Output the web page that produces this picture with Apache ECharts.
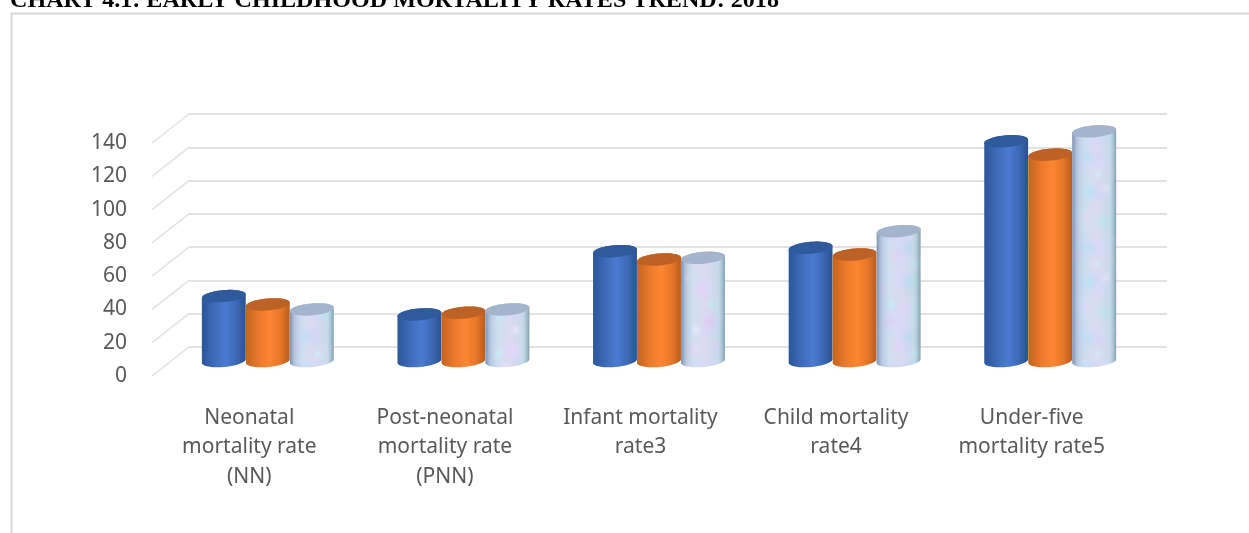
<!DOCTYPE html>
<html><head><meta charset="utf-8">
<style>html,body{margin:0;padding:0;background:#fff;overflow:hidden}#c{width:1249px;height:533px;filter:blur(0.45px)}</style>
<script src="https://cdn.jsdelivr.net/npm/echarts@6/dist/echarts.min.js"></script>
</head><body><div id="c"></div>
<script>
const titleText = 'CHART 4.1: EARLY CHILDHOOD MORTALITY RATES TREND: 2018';
const categories = ['Neonatal\nmortality rate\n(NN)', 'Post-neonatal\nmortality rate\n(PNN)', 'Infant mortality\nrate3', 'Child mortality\nrate4', 'Under-five\nmortality rate5'];
const seriesBlue = [39, 28, 66, 68, 132];
const seriesOrange = [34, 29, 61, 64, 124];
const seriesMarble = [31, 31, 62, 78, 138];
const ticks = [0, 20, 40, 60, 80, 100, 120, 140];

const chart = echarts.init(document.getElementById('c'), null, {renderer: 'canvas'});
const GRID = '#e2e2e2', TEXT = '#595959', FONT = '"Noto Sans", sans-serif';
const DEPTH_X = 37, DEPTH_Y = 29, TILT = -5 * Math.PI / 180;

function marble() {
  const cv = document.createElement('canvas'); cv.width = 60; cv.height = 90;
  const g = cv.getContext('2d'); g.fillStyle = '#d6dcf2'; g.fillRect(0, 0, 60, 90);
  const blobs = [[10,12,16,'#b6e2f0'],[40,20,14,'#e8cff4'],[22,42,16,'#bfe8f2'],[50,52,14,'#e2caf2'],[8,68,15,'#c0dcf2'],[34,80,16,'#ecd8fa'],
    [26,8,9,'#f0e6fc'],[52,34,9,'#c8ecf4'],[6,38,9,'#e6d4f6'],[36,60,9,'#f2ecfc'],[18,84,8,'#d0f0f6'],[56,76,9,'#e0d0f4']];
  blobs.forEach(b => {
    [-60, 0, 60].forEach(ox => [-90, 0, 90].forEach(oy => {
      const r = g.createRadialGradient(b[0] + ox, b[1] + oy, 1, b[0] + ox, b[1] + oy, b[2]);
      r.addColorStop(0, b[3]); r.addColorStop(1, 'rgba(214,220,242,0)');
      g.fillStyle = r; g.fillRect(0, 0, 60, 90);
    }));
  });
  return cv;
}
const marbleImg = marble();

function hGrad(stops) {
  return {type: 'linear', x: 0, y: 0, x2: 1, y2: 0, colorStops: stops.map(s => ({offset: s[0], color: s[1]}))};
}
const looks = [
  {body: hGrad([[0,'#2c5699'],[0.3,'#3f6cba'],[0.55,'#4a7bd2'],[0.8,'#3b67b4'],[1,'#2a5290']]), top: '#2f5a9c'},
  {body: hGrad([[0,'#c2641f'],[0.3,'#ec7a2c'],[0.55,'#fd8632'],[0.8,'#e67628'],[1,'#b85c1c']]), top: '#bd6226'},
  {texture: true, body: hGrad([[0,'rgba(115,135,165,0.9)'],[0.12,'rgba(160,185,210,0.55)'],[0.3,'rgba(190,230,240,0.25)'],[0.55,'rgba(228,205,246,0.25)'],[0.85,'rgba(170,215,225,0.35)'],[1,'rgba(115,150,165,0.85)']]), top: '#a4b4cc'}
];

function ellipsePts(cx, cy, rx, ry, from, to, n) {
  const pts = [];
  for (let i = 0; i <= n; i++) {
    const t = from + (to - from) * i / n;
    const x = rx * Math.cos(t), y = ry * Math.sin(t);
    pts.push([cx + x * Math.cos(TILT) - y * Math.sin(TILT), cy + x * Math.sin(TILT) + y * Math.cos(TILT)]);
  }
  return pts;
}
function cylinder(idx) {
  return function (params, api) {
    const cat = api.value(0), val = api.value(1);
    const band = api.size([1, 0])[0];
    const w = band * 0.225, rx = w / 2, ry = 6;
    const c = api.coord([cat, val]), b = api.coord([cat, 0]);
    const cx = c[0] + (idx - 1) * w;
    const look = looks[idx];
    const bottom = ellipsePts(cx, b[1], rx, ry, 0, Math.PI, 24);
    const topBack = ellipsePts(cx, c[1], rx, ry, Math.PI, 2 * Math.PI, 24);
    const outline = bottom.concat(topBack);
    const kids = [];
    if (look.texture) kids.push({type: 'polygon', shape: {points: outline}, style: {fill: {image: marbleImg, repeat: 'repeat'}}});
    kids.push({type: 'polygon', shape: {points: outline}, style: {fill: look.body}});
    kids.push({type: 'polygon', shape: {points: ellipsePts(cx, c[1], rx, ry, 0, 2 * Math.PI, 48)}, style: {fill: look.top}});
    return {type: 'group', children: kids};
  };
}
function diagonal(params, api) {
  const p = api.coord([0, api.value(0)]);
  const left = params.coordSys.x;
  return {type: 'line', shape: {x1: left, y1: p[1], x2: left + DEPTH_X, y2: p[1] - DEPTH_Y},
    style: {stroke: GRID, lineWidth: 1.5}};
}
const barSeries = (name, data, i) => ({
  name, type: 'custom', xAxisIndex: 2, yAxisIndex: 2, renderItem: cylinder(i), clip: false, z: 5 + i,
  encode: {x: 0, y: 1}, data: data.map((v, k) => [k, v])
});

chart.setOption({
  animation: false,
  backgroundColor: '#fff',
  graphic: [
    {type: 'line', shape: {x1: 11.5, y1: 13, x2: 11.5, y2: 533}, style: {stroke: '#d9d9d9', lineWidth: 2}},
    {type: 'line', shape: {x1: 11, y1: 13.5, x2: 1249, y2: 13.5}, style: {stroke: '#d9d9d9', lineWidth: 2}},
    {type: 'text', x: 10, y: -11, style: {text: titleText, fill: '#000', font: 'bold 24.1px "Liberation Serif", serif'}}
  ],
  grid: [
    {left: 152, top: 143, width: 37, height: 233},
    {left: 189, top: 114, width: 978, height: 233},
    {left: 170, top: 128, width: 978, height: 233},
    {left: 151.5, top: 128, width: 978, height: 233}
  ],
  xAxis: [
    {gridIndex: 0, type: 'value', min: 0, max: 1, show: false},
    {gridIndex: 1, type: 'value', min: 0, max: 1, show: false},
    {gridIndex: 2, type: 'category', data: categories, axisLine: {show: false}, axisTick: {show: false}, axisLabel: {show: false}},
    {gridIndex: 3, type: 'category', data: categories,
      axisLine: {show: false}, axisTick: {show: false},
      axisLabel: {color: TEXT, fontFamily: FONT, fontSize: 21, lineHeight: 29.5, margin: 42, interval: 0}}
  ],
  yAxis: [
    {gridIndex: 0, type: 'value', min: 0, max: 140, interval: 20,
      axisLine: {show: false}, axisTick: {show: false}, splitLine: {show: false},
      axisLabel: {color: TEXT, fontFamily: FONT, fontSize: 21, margin: 25}},
    {gridIndex: 1, type: 'value', min: 0, max: 140, interval: 20,
      axisLine: {show: false}, axisTick: {show: false}, axisLabel: {show: false},
      splitLine: {show: true, lineStyle: {color: GRID, width: 2}}},
    {gridIndex: 2, type: 'value', min: 0, max: 140, interval: 20, show: false, splitLine: {show: false}},
    {gridIndex: 3, type: 'value', min: 0, max: 140, interval: 20, show: false, splitLine: {show: false}}
  ],
  series: [
    {type: 'custom', xAxisIndex: 0, yAxisIndex: 0, renderItem: diagonal, encode: {y: 0}, clip: false, data: ticks.map(t => [t]), silent: true, z: 1},
    barSeries('Series 1', seriesBlue, 0),
    barSeries('Series 2', seriesOrange, 1),
    barSeries('Series 3', seriesMarble, 2)
  ]
});
</script></body></html>
